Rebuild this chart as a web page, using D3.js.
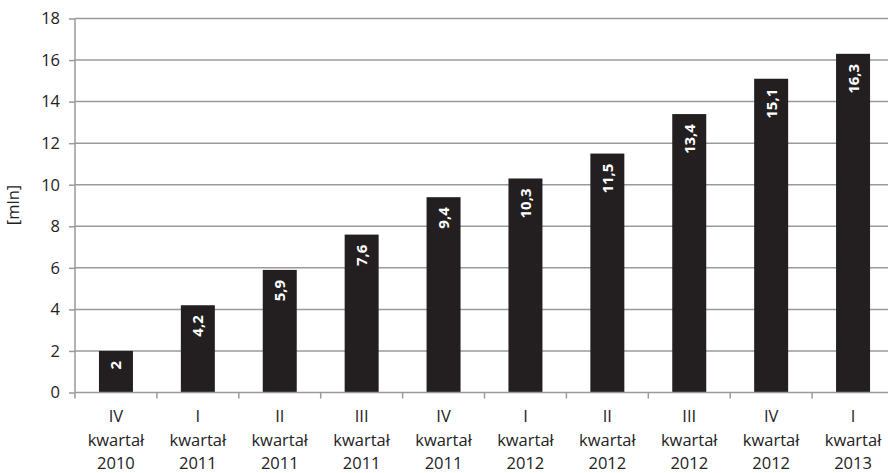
<!DOCTYPE html>
<html><head><meta charset="utf-8">
<script src="https://cdn.jsdelivr.net/npm/d3@7"></script>
<style>body{margin:0;background:#fff}text{font-family:"Open Sans","Liberation Sans",sans-serif}</style>
</head><body><svg id="c" width="888" height="473"></svg>
<script>
const quarters = ["IV","I","II","III","IV","I","II","III","IV","I"];
const years = ["2010","2011","2011","2011","2011","2012","2012","2012","2012","2013"];
const values = [2,4.2,5.9,7.6,9.4,10.3,11.5,13.4,15.1,16.3];
const labels = ["2","4,2","5,9","7,6","9,4","10,3","11,5","13,4","15,1","16,3"];
const yTicks = [0,2,4,6,8,10,12,14,16,18];

const svg = d3.select("#c");
const x = d3.scaleBand().domain(d3.range(values.length)).range([75,894]);
const y = d3.scaleLinear().domain([0,18]).range([392.5,18.5]);
const bw = x.bandwidth()*0.415;
const FS = 16.5;

svg.append("g").selectAll("line").data(yTicks.filter(d=>d>0)).join("line")
  .attr("x1",75).attr("x2",894).attr("y1",d=>y(d)).attr("y2",d=>y(d))
  .attr("stroke","#9a9a9a").attr("stroke-width",1.5);

const ya = svg.append("g").attr("transform","translate(75,0)")
  .call(d3.axisLeft(y).tickValues(yTicks).tickSize(6).tickPadding(9));
ya.select(".domain").attr("stroke","#9a9a9a").attr("stroke-width",1.5).attr("d","M0,"+y(18)+"V"+y(0));
ya.selectAll(".tick line").attr("stroke","#9a9a9a").attr("stroke-width",1.5);
ya.selectAll(".tick text").attr("font-size",FS).attr("fill","#222").style("font-family",'"Open Sans","Liberation Sans",sans-serif');

svg.append("g").selectAll("rect").data(values).join("rect")
  .attr("x",(d,i)=>x(i)+(x.bandwidth()-bw)/2).attr("width",bw)
  .attr("y",d=>y(d)).attr("height",d=>y(0)-y(d)).attr("fill","#231f20");

const xa = svg.append("g").attr("transform","translate(0,"+y(0)+")");
xa.append("line").attr("x1",75).attr("x2",894).attr("stroke","#9a9a9a").attr("stroke-width",1.5);
xa.selectAll("line.t").data(d3.range(values.length+1)).join("line").attr("class","t")
  .attr("x1",i=>75+i*x.step()).attr("x2",i=>75+i*x.step()).attr("y1",0).attr("y2",6)
  .attr("stroke","#9a9a9a").attr("stroke-width",1.5);
const xl = svg.append("g").selectAll("text").data(values).join("text")
  .attr("x",(d,i)=>x(i)+x.bandwidth()/2).attr("text-anchor","middle")
  .attr("font-size",FS).attr("fill","#222");
xl.append("tspan").attr("x",(d,i)=>x(i)+x.bandwidth()/2).attr("y",422).text((d,i)=>quarters[i]);
xl.append("tspan").attr("x",(d,i)=>x(i)+x.bandwidth()/2).attr("y",446).text("kwartał");
xl.append("tspan").attr("x",(d,i)=>x(i)+x.bandwidth()/2).attr("y",469).text((d,i)=>years[i]);

svg.append("g").selectAll("text").data(values).join("text")
  .attr("transform",(d,i)=>"translate("+(x(i)+x.bandwidth()/2+5.5)+","+(y(d)+10)+") rotate(-90)")
  .attr("text-anchor","end").attr("font-size",15).attr("font-weight","bold").attr("fill","#fff")
  .text((d,i)=>labels[i]);

svg.append("text").attr("transform","translate(19,205) rotate(-90)").attr("text-anchor","middle")
  .attr("font-size",FS).attr("fill","#222").text("[mln]");
</script></body></html>
